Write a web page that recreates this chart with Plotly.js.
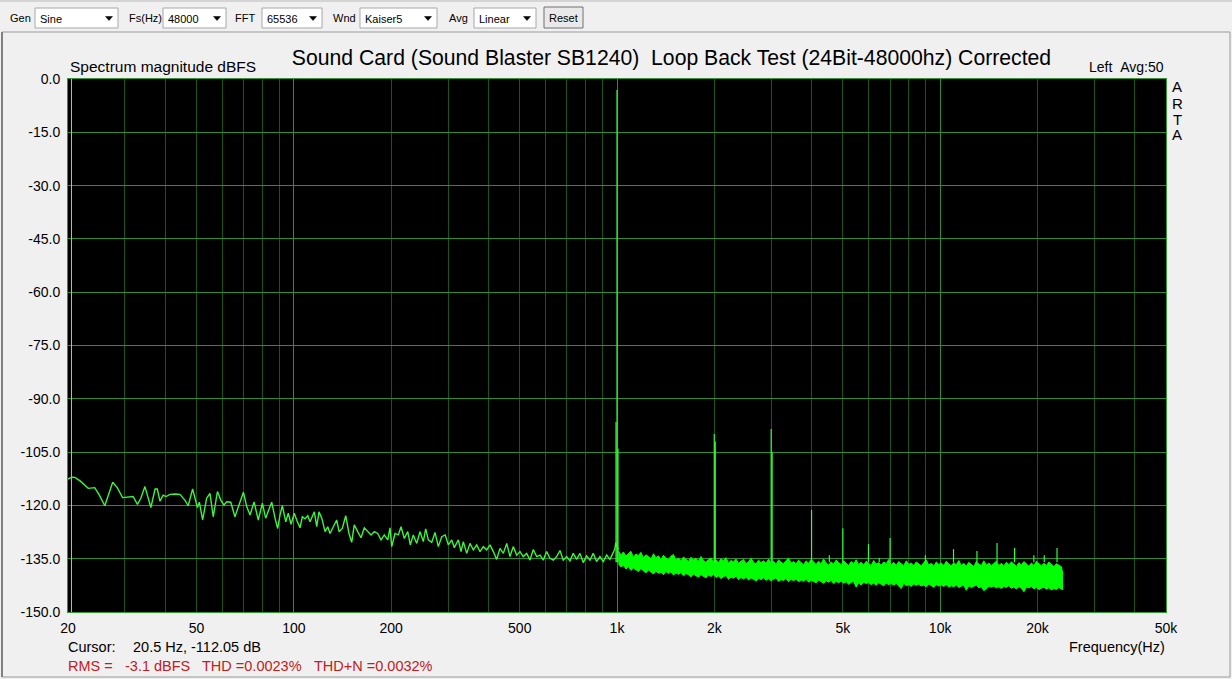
<!DOCTYPE html>
<html>
<head>
<meta charset="utf-8">
<script src="https://cdn.plot.ly/plotly-3.0.1.min.js"></script>
<style>
html,body{margin:0;padding:0;background:#f0f0f0;}
#chart{width:1232px;height:679px;}
</style>
</head>
<body>
<div id="chart"></div>
<script>
// ---------------- DATA ----------------
// Low-frequency part of the spectrum (single line), Hz / dBFS
const lowFreq = [20.0, 20.5, 21.0, 21.8, 23.1, 24.2, 25.0, 26.0, 27.5, 28.4, 29.5, 31.1, 31.8, 32.8, 33.6, 34.6, 35.4, 36.1, 37.2, 37.8,
  38.5, 39.4, 40.2, 41.4, 42.9, 44.4, 46.0, 47.1, 48.6, 49.4, 50.3, 51.0, 52.2, 53.7, 55.0, 56.3, 58.0, 59.4, 60.8, 62.0,
  63.8, 65.7, 67.8, 69.8, 71.5, 73.2, 75.3, 77.6, 79.9, 81.8, 83.8, 85.4, 87.4, 89.1, 90.6, 92.1, 94.4, 96.1, 98.0, 100.3,
  102.3, 104.5, 106.2, 108.3, 110.4, 112.2, 115.7, 117.7, 119.6, 122.0, 124.9, 127.3, 129.4, 132.5, 135.7, 138.0, 141.2, 144.7, 148.1, 151.0,
  153.8, 157.6, 161.4, 165.2, 169.2, 173.3, 177.4, 181.7, 186.1, 190.5, 195.2, 198.4, 200.8, 205.6, 210.5, 214.6, 219.7, 225.1, 229.3, 234.2,
  240.0, 245.7, 251.5, 255.9, 260.7, 267.1, 273.4, 279.9, 286.8, 294.0, 300.6, 308.0, 313.7, 322.8, 329.1, 334.5, 342.7, 350.8, 359.2, 368.0,
  376.7, 385.7, 395.2, 404.6, 414.2, 424.3, 434.4, 444.8, 455.7, 466.5, 477.6, 489.3, 500.9, 512.8, 525.4, 537.9, 550.7, 564.2, 577.6, 591.3,
  605.8, 620.2, 634.9, 650.5, 666.0, 681.8, 698.5, 715.1, 732.1, 750.1, 767.9, 786.2, 805.4, 824.6, 844.2, 864.9, 885.5, 906.6, 928.8, 950.9,
  973.5, 985.4, 991.0, 1008.8];
const lowDb = [-112.6, -112.05, -112.1, -113.1, -115.2, -115.0, -117.1, -120.1, -113.5, -115.0, -117.8, -117.6, -117.5, -119.7, -118.0, -114.7, -118.0, -120.6, -115.4, -115.4,
  -118.8, -117.1, -117.5, -116.9, -116.8, -116.9, -118.5, -120.1, -115.4, -118.0, -120.6, -119.1, -124.1, -118.0, -116.6, -123.2, -116.1, -118.5, -119.9, -119.0,
  -119.1, -123.2, -119.9, -116.3, -120.4, -122.7, -119.0, -124.1, -119.4, -123.6, -121.0, -119.1, -123.5, -126.5, -122.7, -120.1, -124.6, -122.2, -125.3, -122.2,
  -124.4, -126.3, -123.2, -123.8, -122.9, -124.6, -121.8, -126.0, -121.8, -123.6, -127.4, -126.0, -127.9, -126.0, -124.1, -127.4, -126.5, -122.9, -127.9, -130.4,
  -125.5, -127.4, -129.1, -126.3, -127.4, -128.3, -127.4, -127.9, -129.7, -128.3, -129.7, -126.3, -131.6, -127.9, -128.3, -126.0, -129.3, -127.4, -131.1, -128.3,
  -130.7, -127.4, -130.2, -126.6, -129.7, -130.4, -127.6, -131.6, -128.8, -128.3, -131.1, -129.7, -131.9, -129.7, -133.0, -130.2, -133.5, -130.7, -132.5, -131.1,
  -133.0, -131.6, -132.5, -131.1, -133.0, -135.2, -132.1, -133.5, -130.7, -134.4, -131.6, -134.0, -133.0, -134.4, -133.5, -135.4, -132.4, -134.4, -134.0, -135.4,
  -133.0, -134.9, -135.4, -134.4, -132.7, -135.4, -134.4, -135.6, -133.5, -135.2, -133.5, -136.1, -134.2, -135.4, -133.5, -135.8, -134.4, -135.8, -134.0, -135.2,
  -133.3, -132.1, -130.5, -132.4];

// Dense noise floor above 1 kHz: upper and lower edge of the band
const bandFreq = [1010, 1028, 1047, 1066, 1085, 1104, 1124, 1144, 1165, 1186,
  1207, 1229, 1251, 1274, 1297, 1320, 1344, 1368, 1392, 1417,
  1443, 1469, 1495, 1522, 1549, 1577, 1606, 1635, 1664, 1694,
  1724, 1755, 1787, 1819, 1852, 1885, 1919, 1954, 1989, 2025,
  2061, 2098, 2136, 2174, 2213, 2253, 2294, 2335, 2377, 2420,
  2463, 2508, 2553, 2599, 2645, 2693, 2741, 2791, 2841, 2892,
  2944, 2997, 3051, 3106, 3162, 3219, 3277, 3336, 3396, 3457,
  3519, 3582, 3647, 3712, 3779, 3847, 3916, 3987, 4059, 4132,
  4206, 4282, 4359, 4437, 4517, 4598, 4681, 4765, 4851, 4938,
  5027, 5118, 5210, 5304, 5399, 5496, 5595, 5696, 5799, 5903,
  6009, 6117, 6227, 6339, 6454, 6570, 6688, 6808, 6931, 7056,
  7183, 7312, 7444, 7578, 7714, 7853, 7994, 8138, 8285, 8434,
  8586, 8740, 8897, 9058, 9221, 9387, 9556, 9728, 9903, 10081,
  10262, 10447, 10635, 10827, 11022, 11220, 11422, 11628, 11837, 12050,
  12267, 12488, 12713, 12942, 13175, 13412, 13653, 13899, 14149, 14404,
  14663, 14927, 15196, 15469, 15748, 16031, 16320, 16614, 16913, 17217,
  17527, 17843, 18164, 18491, 18824, 19163, 19508, 19859, 20216, 20580,
  20950, 21327, 21711, 22102, 22500, 22905, 23317, 23737, 24000];
const bandHi = [-132.8, -133.9, -133.1, -134.3, -133.5, -132.9, -134.6, -133.7, -134.1, -133.2,
  -134.8, -133.9, -134.4, -135.1, -133.6, -134.7, -134.2, -135.3, -134.0, -134.9,
  -135.2, -134.3, -133.8, -135.4, -134.8, -135.6, -134.5, -135.1, -135.8, -134.6,
  -135.3, -134.9, -135.7, -134.4, -135.5, -136.0, -135.2, -134.8, -135.9, -135.4,
  -136.1, -135.0, -135.6, -134.7, -136.2, -135.5, -135.9, -135.1, -136.3, -135.7,
  -135.2, -136.4, -135.8, -134.9, -136.0, -136.5, -135.4, -136.1, -135.6, -136.3,
  -135.1, -136.2, -135.7, -136.6, -135.3, -136.0, -136.4, -135.5, -134.9, -136.2,
  -135.8, -136.5, -135.4, -136.1, -136.7, -135.6, -136.3, -135.2, -136.0, -136.6,
  -135.7, -136.4, -135.1, -136.2, -136.8, -135.9, -136.5, -135.4, -136.1, -136.7,
  -135.6, -136.3, -136.9, -135.8, -136.4, -135.3, -136.6, -136.0, -136.8, -135.7,
  -136.2, -136.9, -135.5, -136.5, -136.1, -136.8, -135.9, -136.4, -135.2, -136.7,
  -136.0, -136.9, -135.8, -136.3, -137.0, -135.6, -136.6, -136.2, -136.9, -135.9,
  -136.5, -137.0, -136.1, -135.4, -136.8, -136.3, -137.1, -135.9, -136.6, -136.2,
  -136.9, -135.7, -136.4, -137.0, -136.1, -136.7, -135.5, -136.9, -136.3, -137.1,
  -136.0, -136.6, -137.2, -135.8, -136.5, -136.9, -135.6, -136.8, -136.2, -137.0,
  -136.4, -135.7, -136.9, -136.3, -137.1, -136.0, -136.7, -135.9, -136.5, -137.2,
  -136.1, -136.8, -135.8, -136.6, -137.1, -136.2, -136.9, -135.7, -136.5, -137.0,
  -136.3, -136.9, -135.9, -136.7, -137.2, -136.4, -136.8, -137.3, -139.6];
const bandLo = [-136.4, -137.3, -136.9, -137.9, -137.2, -138.3, -137.6, -138.0, -138.6, -137.8,
  -138.4, -139.0, -138.2, -138.7, -139.3, -138.5, -139.1, -138.8, -139.5, -138.6,
  -139.2, -138.7, -139.6, -139.0, -139.4, -138.9, -139.8, -139.2, -139.5, -140.1,
  -139.3, -139.8, -140.2, -139.5, -139.9, -140.4, -139.6, -140.0, -139.4, -140.3,
  -139.9, -140.6, -140.1, -139.7, -140.8, -140.2, -140.5, -139.9, -140.9, -140.3,
  -140.7, -140.2, -141.0, -140.4, -140.8, -141.3, -140.5, -140.9, -140.3, -141.1,
  -140.6, -141.2, -140.8, -140.4, -141.4, -140.9, -141.1, -140.6, -141.5, -140.8,
  -141.2, -140.7, -141.5, -141.0, -141.3, -140.8, -141.6, -141.1, -141.4, -141.8,
  -141.0, -141.5, -141.9, -141.2, -141.6, -141.1, -142.0, -141.4, -141.8, -141.3,
  -141.9, -141.5, -142.2, -141.7, -141.4, -143.0, -141.8, -142.4, -141.6, -142.0,
  -141.7, -142.3, -141.9, -142.5, -141.8, -142.2, -142.6, -141.9, -142.3, -142.0,
  -142.4, -142.0, -142.7, -143.4, -141.9, -142.6, -142.3, -142.8, -142.1, -142.5,
  -142.2, -142.7, -142.4, -142.9, -142.1, -142.6, -143.0, -142.3, -142.7, -142.4,
  -142.8, -142.3, -143.0, -142.6, -142.9, -142.4, -143.1, -142.7, -142.5, -143.9,
  -142.6, -143.1, -142.8, -142.4, -143.2, -142.9, -144.0, -143.3, -142.8, -143.0,
  -142.7, -143.2, -142.9, -143.4, -142.8, -143.1, -142.6, -143.3, -143.0, -143.5,
  -142.9, -143.3, -144.3, -143.0, -143.2, -142.8, -143.5, -143.1, -143.7, -143.3,
  -143.0, -143.6, -143.2, -143.8, -143.4, -143.7, -143.1, -143.6, -143.7];

// Fundamental, harmonics and other discrete lines (Hz, dBFS peak)
const harmFreq = [993, 1000, 1007, 2000, 2014, 3000, 3020, 4000, 4540, 5000, 6000, 6480, 7000, 9000, 11000, 13000, 15000, 17000, 19500, 21000, 23000];
const harmDb = [-96.5, -3.1, -104.0, -99.9, -102.0, -98.5, -105.0, -121.3, -134.0, -126.4, -130.9, -134.8, -129.2, -134.0, -132.3, -132.8, -130.6, -132.0, -134.0, -134.0, -132.0];

const cursorFreq = 20.5;

// Axis ticks
const xTickVals = [20, 50, 100, 200, 500, 1000, 2000, 5000, 10000, 20000, 50000];
const xTickText = ['20', '50', '100', '200', '500', '1k', '2k', '5k', '10k', '20k', '50k'];
const xDecadeGrid = [100, 1000, 10000];
const xMinorGrid = [30, 40, 50, 60, 70, 80, 90, 200, 300, 400, 500, 600, 700, 800, 900,
  2000, 3000, 4000, 5000, 6000, 7000, 8000, 9000, 20000, 30000, 40000];
const yTickVals = [0, -15, -30, -45, -60, -75, -90, -105, -120, -135, -150];
const yTickText = ['0.0', '-15.0', '-30.0', '-45.0', '-60.0', '-75.0', '-90.0', '-105.0', '-120.0', '-135.0', '-150.0'];

// Texts
const titleText = 'Sound Card (Sound Blaster SB1240)\u00a0\u00a0Loop Back Test (24Bit-48000hz) Corrected';
const yLabelText = 'Spectrum magnitude dBFS';
const xLabelText = 'Frequency(Hz)';
const channelText = 'Left\u00a0\u00a0Avg:50';
const brandLetters = ['A', 'R', 'T', 'A'];
const cursorLabel = 'Cursor:';
const cursorValue = '20.5 Hz, -112.05 dB';
const statTexts = ['RMS =', '-3.1 dBFS', 'THD =0.0023%', 'THD+N =0.0032%'];
const toolLabels = ['Gen', 'Fs(Hz)', 'FFT', 'Wnd', 'Avg'];
const toolValues = ['Sine', '48000', '65536', 'Kaiser5', 'Linear'];
const buttonText = 'Reset';

// ---------------- LAYOUT HELPERS ----------------
const W = 1232, H = 679;
const PL = 68, PR = 1166, PT = 79, PB = 612;
const X = p => (p - PL) / (PR - PL);
const Y = p => (PB - p) / (PB - PT);
const FONT = 'Liberation Sans, Arial, sans-serif';
const GREEN = '#00ff00';

function ann(text, x, y, xa, ya, size, color) {
  return {text: text, xref: 'paper', yref: 'paper', x: X(x), y: Y(y), xanchor: xa, yanchor: ya,
    showarrow: false, font: {family: FONT, size: size, color: color || '#000'}};
}
function rect(x0, y0, x1, y1, line, fill, w) {
  return {type: 'rect', xref: 'paper', yref: 'paper', x0: X(x0), x1: X(x1), y0: Y(y1), y1: Y(y0),
    line: {color: line, width: w === undefined ? 1 : w}, fillcolor: fill || 'rgba(0,0,0,0)', layer: 'above'};
}
function line(x0, y0, x1, y1, color, w) {
  return {type: 'line', xref: 'paper', yref: 'paper', x0: X(x0), x1: X(x1), y0: Y(y0), y1: Y(y1),
    line: {color: color, width: w || 1}, layer: 'above'};
}
function tri(cx, cy) {
  const p = (a, b) => X(a) + ',' + Y(b);
  return {type: 'path', xref: 'paper', yref: 'paper', path: 'M' + p(cx - 3.5, cy - 2) + ' L' + p(cx + 3.5, cy - 2) + ' L' + p(cx, cy + 2) + ' Z',
    fillcolor: '#000', line: {color: '#000', width: 0.5}, layer: 'above'};
}

// ---------------- TRACES ----------------
const harmX = [], harmY = [];
harmFreq.forEach((f, i) => { harmX.push(f, f, null); harmY.push(-136, harmDb[i], null); });

const traces = [
  {x: [cursorFreq, cursorFreq], y: [-150, 0], xaxis: 'x', yaxis: 'y', mode: 'lines',
    line: {color: '#d6c83a', width: 1}, hoverinfo: 'skip'},
  {x: bandFreq, y: bandHi, xaxis: 'x2', yaxis: 'y', mode: 'lines', line: {color: GREEN, width: 1}},
  {x: bandFreq, y: bandLo, xaxis: 'x2', yaxis: 'y', mode: 'lines', line: {color: GREEN, width: 1},
    fill: 'tonexty', fillcolor: GREEN},
  {x: lowFreq, y: lowDb, xaxis: 'x2', yaxis: 'y', mode: 'lines', line: {color: '#3cf53c', width: 1.4}},
  {x: harmX, y: harmY, xaxis: 'x2', yaxis: 'y', mode: 'lines', line: {color: '#33ff33', width: 1.2}, connectgaps: false}
];

// ---------------- ANNOTATIONS / SHAPES ----------------
const annotations = [
  ann(yLabelText, 68, 66.5, 'left', 'middle', 15.5),
  ann(channelText, 1166, 67.5, 'right', 'middle', 14),
  ann(xLabelText, 1167, 646.5, 'right', 'middle', 14.5),
  ann(cursorLabel, 66, 646.5, 'left', 'middle', 14.5),
  ann(cursorValue, 131, 646.5, 'left', 'middle', 14.5),
  ann(statTexts[0], 66, 666, 'left', 'middle', 14.5, '#c0201c'),
  ann(statTexts[1], 122.5, 666, 'left', 'middle', 14.5, '#c0201c'),
  ann(statTexts[2], 199.5, 666, 'left', 'middle', 14.5, '#c0201c'),
  ann(statTexts[3], 312, 666, 'left', 'middle', 14.5, '#c0201c')
];
const brandY = [87, 103, 119, 135];
brandLetters.forEach((t, i) => annotations.push(ann(t, 1177, brandY[i], 'center', 'middle', 15)));

const labelX = [8, 127, 233, 331, 447];
const boxX = [[35, 118], [163, 226], [262, 322], [360, 437], [474, 536]];
const shapes = [
  line(0, 1, 1232, 1, '#b8b8b8'),
  rect(2, 32, 1230, 677, '#9a9a9a', 'rgba(0,0,0,0)', 1),
  line(2, 32, 2, 677, '#6a6a6a', 1.5)
];
toolLabels.forEach((t, i) => annotations.push(ann(t, labelX[i], 18, 'left', 'middle', 11)));
boxX.forEach((b, i) => {
  shapes.push(rect(b[0], 8, b[1], 28, '#a8a8a8', '#ffffff', 1));
  shapes.push(tri(b[1] - 9, 18.5));
  annotations.push(ann(toolValues[i], b[0] + 3, 18.5, 'left', 'middle', 11));
});
shapes.push(rect(544, 7, 583, 28, '#707070', '#e9e9e9', 1));
annotations.push(ann(buttonText, 563.5, 18, 'center', 'middle', 11));

// ---------------- LAYOUT ----------------
const layout = {
  width: W, height: H,
  margin: {l: PL, r: W - PR, t: PT, b: H - PB, pad: 0},
  paper_bgcolor: '#f0f0f0', plot_bgcolor: '#000000',
  showlegend: false,
  font: {family: FONT, size: 14, color: '#000'},
  title: {text: titleText, xref: 'container', yref: 'container', x: 671.5 / W, y: 1 - 58 / H,
    xanchor: 'center', yanchor: 'middle', font: {family: FONT, size: 21.2, color: '#000'}},
  xaxis: {type: 'log', range: [Math.log10(20), Math.log10(50000)], tickmode: 'array', tickvals: xDecadeGrid,
    showticklabels: false, ticks: '', showgrid: true, gridcolor: '#2f8d2f', gridwidth: 1,
    minor: {tickmode: 'array', tickvals: xMinorGrid, showgrid: true, gridcolor: '#1b531b', gridwidth: 1, ticks: ''},
    showline: true, mirror: true, linecolor: '#2f9a2f', linewidth: 1, zeroline: false, fixedrange: true},
  xaxis2: {type: 'log', overlaying: 'x', anchor: 'y', side: 'bottom', range: [Math.log10(20), Math.log10(50000)],
    tickmode: 'array', tickvals: xTickVals, ticktext: xTickText, showgrid: false, ticks: '',
    tickfont: {family: FONT, size: 14, color: '#000'}, ticklabelstandoff: 6, zeroline: false, showline: false, fixedrange: true},
  yaxis: {range: [-150, 0], tickmode: 'array', tickvals: yTickVals, ticktext: yTickText, ticks: '',
    showgrid: true, gridcolor: '#2f8d2f', gridwidth: 1, zeroline: false,
    showline: true, mirror: true, linecolor: '#2f9a2f', linewidth: 1,
    tickfont: {family: FONT, size: 14, color: '#000'}, ticklabelstandoff: 4, fixedrange: true},
  annotations: annotations,
  shapes: shapes
};

Plotly.newPlot('chart', traces, layout, {displayModeBar: false, staticPlot: true});
</script>
</body>
</html>
